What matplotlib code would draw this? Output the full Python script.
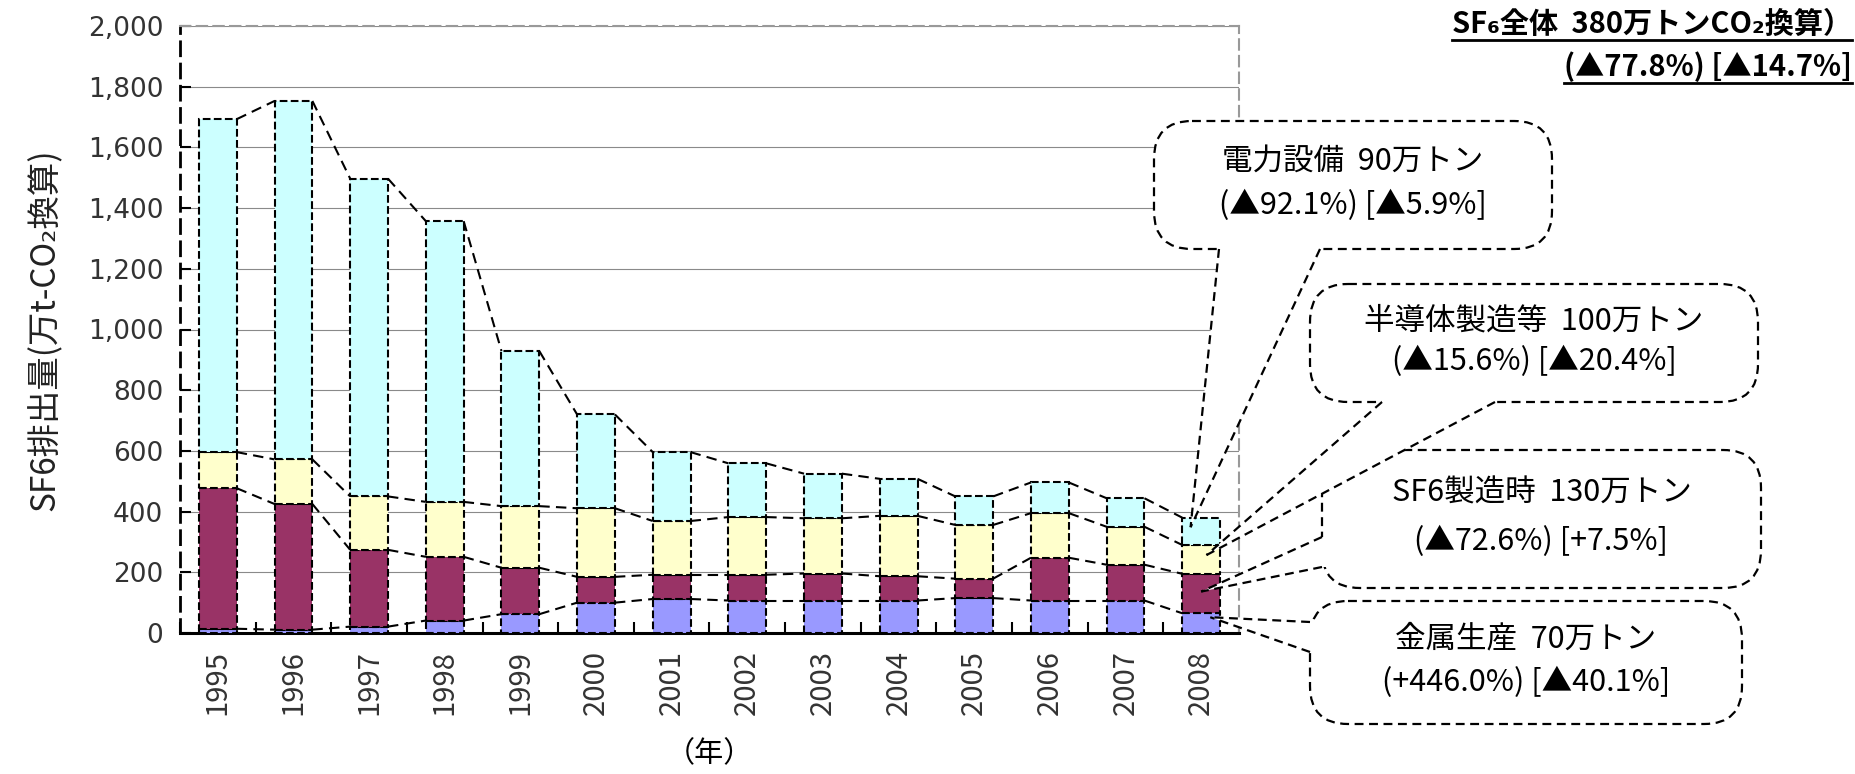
import matplotlib
matplotlib.use("Agg")
import matplotlib.pyplot as plt
from matplotlib.patches import FancyBboxPatch, Polygon
import numpy as np

plt.rcParams['font.family'] = ['Noto Sans CJK JP', 'DejaVu Sans']

# data (万t-CO2)
years = ['1995', '1996', '1997', '1998', '1999', '2000', '2001',
         '2002', '2003', '2004', '2005', '2006', '2007', '2008']
metal = [14, 11, 21, 41, 62, 100, 112, 107, 107, 107, 115, 107, 107, 65]
sf6_make = [463, 414, 253, 210, 153, 85, 80, 85, 89, 80, 64, 141, 118, 130]
semicon = [119, 147, 176, 181, 203, 226, 177, 190, 182, 199, 177, 147, 125, 95]
power = [1097, 1181, 1047, 925, 511, 309, 227, 177, 147, 122, 94, 101, 94, 90]

series = [metal, sf6_make, semicon, power]
colors = ['#9999FF', '#993366', '#FFFFCC', '#CCFFFF']

callout_titles = ['金属生産  70万トン', 'SF6製造時  130万トン',
                  '半導体製造等  100万トン', '電力設備  90万トン']
callout_rates = ['(+446.0%) [▲40.1%]', '(▲72.6%) [+7.5%]',
                 '(▲15.6%) [▲20.4%]', '(▲92.1%) [▲5.9%]']

W, H = 1856, 774
fig = plt.figure(figsize=(W / 100, H / 100), dpi=100)
ax = fig.add_axes([180 / W, 1 - 633 / H, (1239 - 180) / W, (633 - 26) / H])

x = np.arange(len(years))
bw = 0.5
bottom = np.zeros(len(years))
levels = []
for vals, c in zip(series, colors):
    ax.bar(x, vals, bw, bottom=bottom, color=c, edgecolor='black',
           linewidth=1.5, linestyle='--', zorder=3)
    bottom = bottom + np.array(vals)
    levels.append(bottom.copy())

# series lines between bars
for lv in levels:
    for i in range(len(years) - 1):
        ax.plot([x[i] + bw / 2, x[i + 1] - bw / 2], [lv[i], lv[i + 1]],
                color='black', lw=1.5, ls=(0, (5, 3)), zorder=4)

ax.set_xlim(-0.5, len(years) - 0.5)
ax.set_ylim(0, 2000)
ax.set_yticks(range(0, 2001, 200))
ax.set_yticklabels([f'{v:,}' for v in range(0, 2001, 200)],
                   fontsize=19, color='#333333', family='DejaVu Sans')
ax.yaxis.grid(True, color='#8a8a8a', lw=0.8, zorder=0)
ax.set_axisbelow(True)
ax.set_xticks(x)
ax.set_xticklabels(years, rotation=90, fontsize=21, color='#333333')
ax.set_xticks(np.arange(-0.5, len(years), 1.0), minor=True)
ax.tick_params(axis='x', which='major', length=0, pad=12)
ax.tick_params(axis='x', which='minor', direction='in', length=8, width=1.5)
ax.tick_params(axis='y', direction='in', length=8, width=1.5, pad=12)
ax.set_xlabel('（年）', fontsize=21, labelpad=18)
ax.set_ylabel('SF6排出量(万t-CO₂換算)', fontsize=24, labelpad=18,
              color='#222222')

for s in ['top', 'right']:
    ax.spines[s].set_color('#999999')
    ax.spines[s].set_linestyle((0, (5, 3)))
    ax.spines[s].set_linewidth(1.5)
ax.spines['left'].set_linestyle((0, (5, 3)))
ax.spines['left'].set_linewidth(2)
ax.spines['bottom'].set_linewidth(2.2)

# overlay in pixel coordinates for callouts
ov = fig.add_axes([0, 0, 1, 1], zorder=5)
ov.set_xlim(0, W)
ov.set_ylim(H, 0)
ov.axis('off')
ov.patch.set_alpha(0)


def to_pix(xd, yd):
    px, py = ax.transData.transform((xd, yd))
    return px, H - py


last = len(years) - 1
lower = [0] + [lv[last] for lv in levels[:-1]]
upper = [lv[last] for lv in levels]
tip_frac = [0.8, 0.55, 0.65, 0.65]
tip_dx = [0.12, 0.0, 0.07, -0.14]

# box extents (pixels) and pointer bases
boxes = [(1310, 601, 1742, 724), (1322, 450, 1761, 588),
         (1310, 284, 1758, 402), (1154, 121, 1552, 249)]
bases = [((1310, 622), (1310, 652)), ((1322, 537), (1322, 567)),
         ((1382, 402), (1495, 402)), ((1219, 249), (1320, 249))]

for k in range(4):
    x0, y0, x1, y1 = boxes[k]
    box = FancyBboxPatch((x0, y0), x1 - x0, y1 - y0,
                         boxstyle='round,pad=0,rounding_size=38',
                         fc='white', ec='black', lw=1.6, ls=(0, (4, 2.5)))
    ov.add_patch(box)
    tv = lower[k] + tip_frac[k] * (upper[k] - lower[k])
    tip = to_pix(last + tip_dx[k], tv)
    b1, b2 = bases[k]
    if b1[0] == b2[0]:
        inner = [(b2[0] + 4, b2[1]), (b1[0] + 4, b1[1])]
    else:
        inner = [(b2[0], b2[1] - 4), (b1[0], b1[1] - 4)]
    ov.add_patch(Polygon([b1, tip, b2] + inner, closed=True,
                         fc='white', ec='none', zorder=3))
    for b in (b1, b2):
        ov.plot([b[0], tip[0]], [b[1], tip[1]], color='black', lw=1.6,
                ls=(0, (4, 2.5)), zorder=4)
    cx = (x0 + x1) / 2
    ov.text(cx, y0 + (y1 - y0) * 0.31, callout_titles[k], fontsize=22,
            ha='center', va='center', zorder=6)
    ov.text(cx, y0 + (y1 - y0) * 0.66, callout_rates[k], fontsize=22,
            ha='center', va='center', zorder=6)

# title with underline
t1 = ov.text(1852, 24, 'SF₆全体  380万トンCO₂換算）', fontsize=21,
             fontweight='bold', ha='right', va='center')
t2 = ov.text(1852, 67, '(▲77.8%) [▲14.7%]', fontsize=21,
             fontweight='bold', ha='right', va='center')
fig.canvas.draw()
r = fig.canvas.get_renderer()
for t in (t1, t2):
    bb = t.get_window_extent(r)
    ov.plot([bb.x0, bb.x1], [H - bb.y0 + 1, H - bb.y0 + 1], color='black', lw=2)

fig.savefig('out.png', dpi=100)
